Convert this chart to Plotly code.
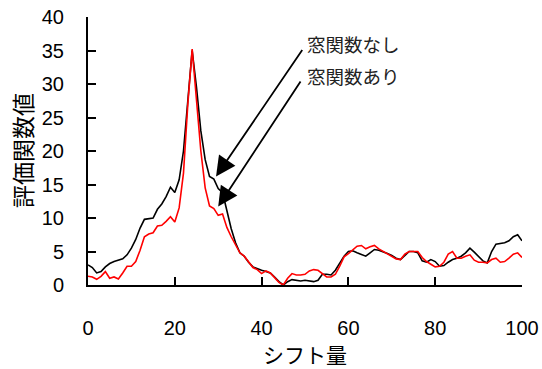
import plotly.graph_objects as go

shift = list(range(0, 101))

no_window = [
    3.0, 2.6, 1.8, 2.0, 2.7, 3.2, 3.5, 3.7, 3.9, 4.5,
    5.5, 6.8, 8.5, 9.8, 9.9, 10.0, 11.3, 12.1, 13.2, 14.6,
    13.8, 15.7, 20.0, 27.5, 35.0, 29.5, 23.0, 18.7, 16.2, 15.8,
    14.4, 13.8, 11.0, 8.4, 6.3, 4.8, 4.3, 3.4, 2.7, 2.4,
    2.2, 2.0, 1.8, 1.2, 0.5, 0.0, 0.5, 0.8, 0.7, 0.6,
    0.7, 0.6, 0.5, 0.7, 1.6, 1.6, 1.5, 2.2, 3.3, 4.3,
    5.0, 5.1, 4.8, 4.5, 4.3, 4.8, 5.3, 5.2, 5.0, 4.7,
    4.4, 4.0, 3.8, 4.4, 5.0, 5.0, 4.8, 3.6, 3.4, 3.8,
    3.5, 2.8, 2.9, 3.4, 3.8, 4.0, 4.3, 4.8, 5.5, 4.9,
    4.2, 3.6, 3.3, 5.0, 6.1, 6.2, 6.3, 6.6, 7.2, 7.5,
    6.6,
]

with_window = [
    1.3, 1.2, 0.85, 1.3, 2.0, 1.0, 1.2, 0.9, 1.8, 2.8,
    2.8, 3.5, 5.2, 7.2, 7.6, 7.8, 8.8, 8.9, 9.5, 10.2,
    9.4, 11.5, 16.7, 27.0, 35.2, 27.0, 20.0, 14.5, 11.8, 11.4,
    10.4, 10.6, 8.6, 7.2, 5.9, 4.8, 4.3, 3.4, 2.6, 2.3,
    1.7, 2.1, 1.8, 1.1, 0.4, 0.0, 1.0, 1.7, 1.5, 1.5,
    1.6, 2.1, 2.3, 2.2, 1.7, 1.2, 1.2, 1.6, 2.8, 4.2,
    4.7, 5.2, 5.8, 5.9, 5.4, 5.7, 5.9, 5.4, 5.0, 4.6,
    4.2, 3.9, 3.8, 4.6, 5.0, 5.0, 5.0, 4.1, 3.5, 3.1,
    2.7, 2.8, 3.4, 4.6, 5.0, 4.0, 4.0, 4.3, 4.5, 3.7,
    3.4, 3.4, 3.3, 3.8, 4.0, 3.4, 3.5, 4.0, 4.6, 4.8,
    4.1,
]

x_ticks = [0, 20, 40, 60, 80, 100]
y_ticks = [0, 5, 10, 15, 20, 25, 30, 35, 40]

labels = ["窓関数なし", "窓関数あり"]
x_title = "シフト量"
y_title = "評価関数値"

JP = "Noto Sans CJK JP"
NUM = "Liberation Sans"

fig = go.Figure()
fig.add_trace(go.Scatter(x=shift, y=no_window, mode="lines",
                         line=dict(color="black", width=1.6), name=labels[0]))
fig.add_trace(go.Scatter(x=shift, y=with_window, mode="lines",
                         line=dict(color="#ff0000", width=1.6), name=labels[1]))

# arrows (tail -> tip) in data coordinates
arrows = [((49.6, 35.3), (29.5, 16.2)), ((49.2, 30.6), (30.0, 11.7))]
for (tx, ty), (hx, hy) in arrows:
    fig.add_annotation(x=hx, y=hy, ax=tx, ay=ty, xref="x", yref="y",
                       axref="x", ayref="y", text="", showarrow=True,
                       arrowhead=2, arrowsize=2.2, arrowwidth=1.8,
                       arrowcolor="black")

for lbl, yv in zip(labels, [36.0, 31.2]):
    fig.add_annotation(x=50.0, y=yv, xref="x", yref="y", text=lbl,
                       showarrow=False, xanchor="left", yanchor="middle",
                       font=dict(family=JP, size=18.5, color="#222"))

fig.add_annotation(x=0.5, xref="paper", y=-0.256, yref="paper", text=x_title,
                   showarrow=False, xanchor="center", yanchor="middle",
                   font=dict(family=JP, size=21, color="black"))
fig.add_annotation(x=-0.152, xref="paper", y=0.5, yref="paper", text=y_title,
                   showarrow=False, xanchor="center", yanchor="middle",
                   textangle=-90,
                   font=dict(family=JP, size=23, color="black"))

fig.update_layout(
    width=542, height=369,
    margin=dict(l=88, r=20, t=17, b=84, autoexpand=False),
    paper_bgcolor="white", plot_bgcolor="white",
    showlegend=False,
    xaxis=dict(range=[0, 100], tickvals=x_ticks, ticks="inside", ticklen=8,
               tickwidth=2, tickcolor="black", showline=True, linecolor="black",
               linewidth=2, showgrid=False, zeroline=False, automargin=False,
               tickfont=dict(family=NUM, size=20, color="black"),
               ticklabelstandoff=24),
    yaxis=dict(range=[0, 40], tickvals=y_ticks, ticks="inside", ticklen=8,
               tickwidth=2, tickcolor="black", showline=True, linecolor="black",
               linewidth=2, showgrid=False, zeroline=False, automargin=False,
               tickfont=dict(family=NUM, size=20, color="black"),
               ticklabelstandoff=18),
)

fig.write_html("out.html", config={"displayModeBar": False},
               post_script="document.body.style.margin='0';document.body.style.overflow='hidden';")
